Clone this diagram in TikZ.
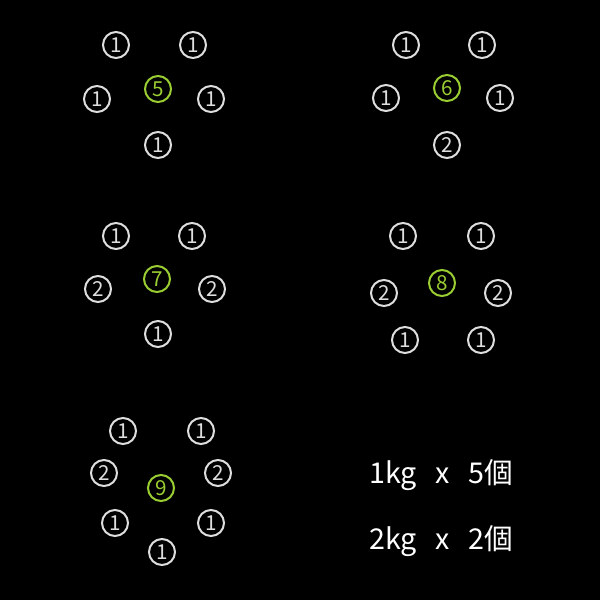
\documentclass[tikz,border=0pt]{standalone}
\usepackage{fontspec}
\setmainfont{Noto Sans CJK JP}
\usepackage{xcolor}
\definecolor{ballwhite}{RGB}{222,222,222}
\definecolor{coregreen}{RGB}{154,205,50}
\begin{document}
\begin{tikzpicture}[x=0.75pt,y=0.75pt,yscale=-1,xscale=1,
  ball/.style={circle,draw=ballwhite,text=ballwhite,line width=1.5pt,minimum size=19.5pt,inner sep=0pt,font=\fontsize{15.5}{15.5}\selectfont},
  core/.style={ball,draw=coregreen,text=coregreen},
  note/.style={anchor=base west,inner sep=0pt,text=white,font=\fontsize{21.5}{21.5}\selectfont}]
		%Background
		\fill[black] (0,0) rectangle (600,600);
		\useasboundingbox (0,0) rectangle (600,600);
		
		%Group 5
		\node[core] (c5) at (158,89) {5};
		\node[ball] (a5tl) at (116,45) {1};
		\node[ball] (a5tr) at (193,45) {1};
		\node[ball] (a5l) at (97,99) {1};
		\node[ball] (a5r) at (211,99) {1};
		\node[ball] (a5b) at (158,145) {1};
		
		%Group 6
		\node[core] (c6) at (447,88) {6};
		\node[ball] (a6tl) at (406,45) {1};
		\node[ball] (a6tr) at (482,45) {1};
		\node[ball] (a6l) at (386,98) {1};
		\node[ball] (a6r) at (500,98) {1};
		\node[ball] (a6b) at (447,145) {2};
		
		%Group 7
		\node[core] (c7) at (157,279) {7};
		\node[ball] (a7tl) at (116,236) {1};
		\node[ball] (a7tr) at (192,236) {1};
		\node[ball] (a7l) at (98,289) {2};
		\node[ball] (a7r) at (212,289) {2};
		\node[ball] (a7b) at (158,334) {1};
		
		%Group 8
		\node[core] (c8) at (442,283) {8};
		\node[ball] (a8tl) at (403,236) {1};
		\node[ball] (a8tr) at (481,236) {1};
		\node[ball] (a8l) at (384,293) {2};
		\node[ball] (a8r) at (498,293) {2};
		\node[ball] (a8bl) at (405,340) {1};
		\node[ball] (a8br) at (481,340) {1};
		
		%Group 9
		\node[core] (c9) at (161,488) {9};
		\node[ball] (a9tl) at (123,431) {1};
		\node[ball] (a9tr) at (201,431) {1};
		\node[ball] (a9l) at (104,473) {2};
		\node[ball] (a9r) at (218,473) {2};
		\node[ball] (a9bl) at (115,523) {1};
		\node[ball] (a9br) at (211,523) {1};
		\node[ball] (a9b) at (162,552) {1};
		
		% Text Node
		\node[note] (kg1) at (369,483) {1kg\hspace{14pt}x\hspace{14pt}5個};
		% Text Node
		\node[note] (kg2) at (369,549) {2kg\hspace{14pt}x\hspace{14pt}2個};
		
\end{tikzpicture}
\end{document}
